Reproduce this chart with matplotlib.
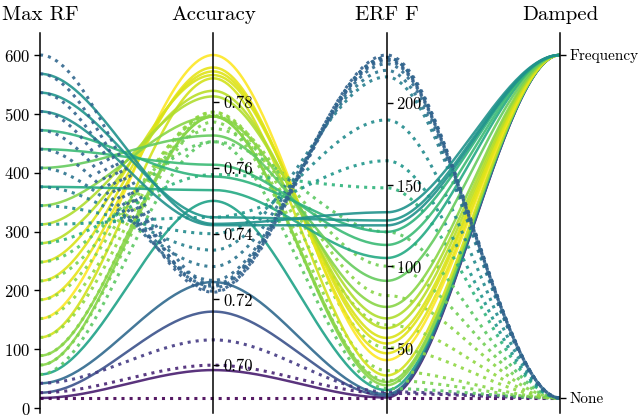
"""Parallel-coordinates view of receptive field vs accuracy, damped vs undamped."""

import numpy as np
import matplotlib
matplotlib.use("Agg")
import matplotlib.pyplot as plt
from matplotlib import colors
from matplotlib.ticker import FixedLocator, FormatStrFormatter

plt.rcParams["font.family"] = "cmr10"
plt.rcParams["mathtext.fontset"] = "cm"
plt.rcParams["axes.formatter.use_mathtext"] = True

axis_names = ["Max RF", "Accuracy", "ERF F", "Damped"]
damped_labels = ["None", "Frequency"]

# damped = Frequency (solid)
freq_max_rf = [17, 26, 42, 57, 73, 89, 120, 152, 184, 216, 248, 280, 312, 344,
               376, 408, 440, 472, 504, 536, 568]
freq_acc = [0.6985, 0.7163, 0.7253, 0.7500, 0.7757, 0.7757, 0.7873, 0.7944,
            0.7906, 0.7894, 0.7883, 0.7835, 0.7818, 0.7757, 0.7533, 0.7699,
            0.7610, 0.7574, 0.7426, 0.7450, 0.7430]
freq_erf = [19.5, 20.5, 21.5, 24, 27, 29, 33, 42.4, 46.6, 52.6, 56, 62, 68, 75,
            105, 91, 113, 121, 125, 128, 133]

# damped = None (dotted)
none_max_rf = [17, 26, 42, 57, 73, 89, 120, 152, 184, 216, 248, 280, 312, 344,
               376, 408, 440, 472, 504, 536, 568, 600]
none_acc = [0.6900, 0.7000, 0.7077, 0.7680, 0.7740, 0.7760, 0.7770, 0.7770,
            0.7760, 0.7720, 0.7680, 0.7580, 0.7450, 0.7400, 0.7350, 0.7300,
            0.7258, 0.7240, 0.7222, 0.7235, 0.7225, 0.7245]
none_erf = [19.2, 22, 23, 25, 30, 36, 50, 64, 82, 100, 121, 148, 164.6, 189.6,
            216, 220, 224, 226, 227, 228, 229.4, 228]

max_rf_ticks = [0, 100, 200, 300, 400, 500, 600]
acc_ticks = [0.70, 0.72, 0.74, 0.76, 0.78]
erf_ticks = [50, 100, 150, 200]

rows = ([(m, a, e, 1) for m, a, e in zip(freq_max_rf, freq_acc, freq_erf)]
        + [(m, a, e, 0) for m, a, e in zip(none_max_rf, none_acc, none_erf)])
data = np.array(rows, dtype=float)

lo = data.min(axis=0)
hi = data.max(axis=0)
lo[3], hi[3] = 0.0, 1.0
norm_data = (data - lo) / (hi - lo)

PAD_LO = 15 / 343
PAD_HI = 22 / 343

fig = plt.figure(figsize=(6.4, 4.18), dpi=100)
host = fig.add_axes([40 / 640, 5 / 418, 520 / 640, 380 / 418])
host.set_xlim(0, 3)
host.set_ylim(-PAD_LO, 1 + PAD_HI)
host.axis("off")

cmap = plt.get_cmap("viridis")
cnorm = colors.Normalize(vmin=lo[1], vmax=hi[1])

t = np.linspace(0, 1, 60)
ease = 3 * t ** 2 - 2 * t ** 3
order = np.argsort(data[:, 0], kind="stable")
for k in order:
    xs, ys = [], []
    for i in range(3):
        y0, y1 = norm_data[k, i], norm_data[k, i + 1]
        xs.append(i + t)
        ys.append(y0 + (y1 - y0) * ease)
    xs = np.concatenate(xs)
    ys = np.concatenate(ys)
    solid = data[k, 3] == 1
    host.plot(xs, ys, color=cmap(cnorm(data[k, 1])),
              linestyle="-" if solid else ":",
              linewidth=1.8 if solid else 2.2, alpha=0.9)

tick_sets = [max_rf_ticks, acc_ticks, erf_ticks, [0, 1]]
for i in range(4):
    tw = host.twinx()
    span = hi[i] - lo[i]
    tw.set_ylim(lo[i] - PAD_LO * span, hi[i] + PAD_HI * span)
    for side in ["top", "bottom"]:
        tw.spines[side].set_visible(False)
    if i == 0:
        tw.spines["right"].set_visible(False)
        tw.spines["left"].set_position(("axes", 0))
        tw.yaxis.set_ticks_position("left")
        tw.yaxis.set_label_position("left")
        keep = "left"
    else:
        tw.spines["left"].set_visible(False)
        tw.spines["right"].set_position(("axes", i / 3))
        tw.yaxis.set_ticks_position("right")
        keep = "right"
    tw.spines[keep].set_linewidth(1.1)
    tw.yaxis.set_major_locator(FixedLocator(tick_sets[i]))
    if i == 1:
        tw.yaxis.set_major_formatter(FormatStrFormatter("%.2f"))
    if i == 3:
        tw.set_yticklabels(damped_labels)
    tw.tick_params(axis="y", labelsize=11 if i == 3 else 12,
                   width=1.0, length=4, pad=3)
    host.annotate(axis_names[i], xy=(i, 1 + PAD_HI), xytext=(0, 9),
                  textcoords="offset points", ha="center", va="baseline",
                  fontsize=15)

fig.savefig("out.png", dpi=100)
